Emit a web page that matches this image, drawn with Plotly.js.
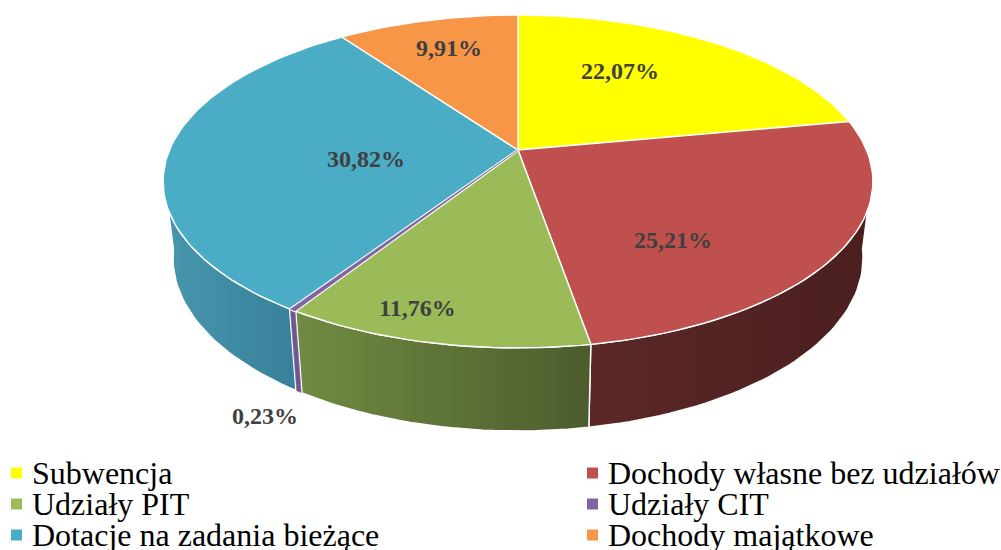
<!DOCTYPE html>
<html lang="pl">
<head>
<meta charset="utf-8">
<script src="https://cdn.plot.ly/plotly-3.0.1.min.js"></script>
<style>html,body{margin:0;padding:0;background:#fff;overflow:hidden}#chart{width:1001px;height:550px}</style>
</head>
<body>
<div id="chart"></div>
<script>
var categories = ["Subwencja","Dochody własne bez udziałów","Udziały PIT","Udziały CIT","Dotacje na zadania bieżące","Dochody majątkowe"];
var values = [22.07,25.21,11.76,0.23,30.82,9.91];
var valueLabels = ["22,07%","25,21%","11,76%","0,23%","30,82%","9,91%"];
var topColors = ["#FFFF00","#C0504D","#9BBB59","#8064A2","#4BACC6","#F79646"];
var wallLeftColors = ["#FFFF00","#5B2826","#708B42","#6F5790","#4897AE","#C67838"];
var wallRightColors = ["#FFFF00","#4A1F1E","#4C5C2D","#6F5790","#37809A","#C67838"];

// placement of the tilted disc (pixel-space axes)
var cx=518, cy=150, A=348.5, B=160.5, K=0.189;
var bcy=225.2, bA=338.8, bB=166.9;
var labelPos=[[620,71],[673,240],[417,308],[265,416],[366,159],[449,48]];
var legendPos=[[11,32,473],[587,608,473],[11,32,504],[587,608,504],[11,32,535],[587,608,535]];
var WALL_FROM=98, WALL_TO=262, THIN=1;

function topPt(d){var r=d*Math.PI/180,s=Math.sin(r),c=Math.cos(r),w=1+K*c;
  return [cx+A*s/w, cy-B*c/w];}
function botPt(d){var r=d*Math.PI/180,s=Math.sin(r),c=Math.cos(r),w=1+K*c;
  return [cx+bA*s/w, bcy-bB*c/w];}
function arc(a,b,fn){var n=Math.max(2,Math.ceil(Math.abs(b-a)/1.5)),o=[];
  for(var i=0;i<=n;i++)o.push(fn(a+(b-a)*i/n));return o;}
function xs(p){return p.map(function(q){return q[0];});}
function ys(p){return p.map(function(q){return q[1];});}
function outline(p,color,width){return {type:'scatter',mode:'lines',x:xs(p),y:ys(p),
  line:{color:color,width:width},hoverinfo:'skip',showlegend:false};}
function solid(p,color,width){return {type:'scatter',mode:'lines',x:xs(p),y:ys(p),fill:'toself',fillcolor:color,
  line:{color:color,width:width},hoverinfo:'skip',showlegend:false};}

var total=values.reduce(function(a,b){return a+b;},0);
var walls=[],tops=[],wallThin=[],topThin=[],cum=0;
values.forEach(function(v,i){
  var a=cum/total*360,b=(cum+v)/total*360;cum+=v;
  var thin=v<THIN;
  var wa=Math.max(a,WALL_FROM),wb=Math.min(b,WALL_TO);
  if(wb>wa){
    var poly=arc(wa,wb,topPt).concat(arc(wb,wa,botPt));poly.push(poly[0]);
    if(thin){
      wallThin.push(outline(poly,'#fff',3));
      wallThin.push(solid(poly,wallLeftColors[i],0.5));
    }else{
      walls.push({type:'scatter',mode:'lines',x:xs(poly),y:ys(poly),fill:'toself',
        line:{color:'#fff',width:1.4},hoverinfo:'skip',showlegend:false,
        fillgradient:{type:'horizontal',colorscale:[[0,wallLeftColors[i]],[1,wallRightColors[i]]]}});
    }
  }
  var sl=[[cx,cy]].concat(arc(a,b,topPt));sl.push([cx,cy]);
  if(thin){
    topThin.push(outline(sl,'#fff',2.6));
    topThin.push(solid(sl,topColors[i],0.5));
  }else{
    tops.push({type:'scatter',mode:'lines',x:xs(sl),y:ys(sl),fill:'toself',fillcolor:topColors[i],
      line:{color:'#fff',width:1.4},name:categories[i],text:valueLabels[i],hoverinfo:'name+text',showlegend:false});
  }
});

var swatches={type:'scatter',mode:'markers',x:legendPos.map(function(p){return p[0]+5.5;}),
  y:legendPos.map(function(p){return p[2];}),
  marker:{symbol:'square',size:11,color:topColors,line:{width:0}},hoverinfo:'skip',showlegend:false};

var annotations=[];
valueLabels.forEach(function(t,i){annotations.push({x:labelPos[i][0],y:labelPos[i][1],text:'<b>'+t+'</b>',showarrow:false,
  xanchor:'center',yanchor:'middle',font:{family:'"Liberation Serif",serif',size:24,color:'#404040'}});});
categories.forEach(function(t,i){annotations.push({x:legendPos[i][1],y:legendPos[i][2],text:t,showarrow:false,
  xanchor:'left',yanchor:'middle',xshift:-1,font:{family:'"Liberation Serif",serif',size:32,color:'#000'},borderpad:0});});

Plotly.newPlot('chart',walls.concat(wallThin,tops,topThin,[swatches]),{
  width:1001,height:550,margin:{l:0,r:0,t:0,b:0},showlegend:false,
  paper_bgcolor:'#fff',plot_bgcolor:'#fff',
  xaxis:{range:[0,1001],visible:false,fixedrange:true},
  yaxis:{range:[550,0],visible:false,fixedrange:true},
  annotations:annotations
},{displayModeBar:false});
</script>
</body>
</html>
